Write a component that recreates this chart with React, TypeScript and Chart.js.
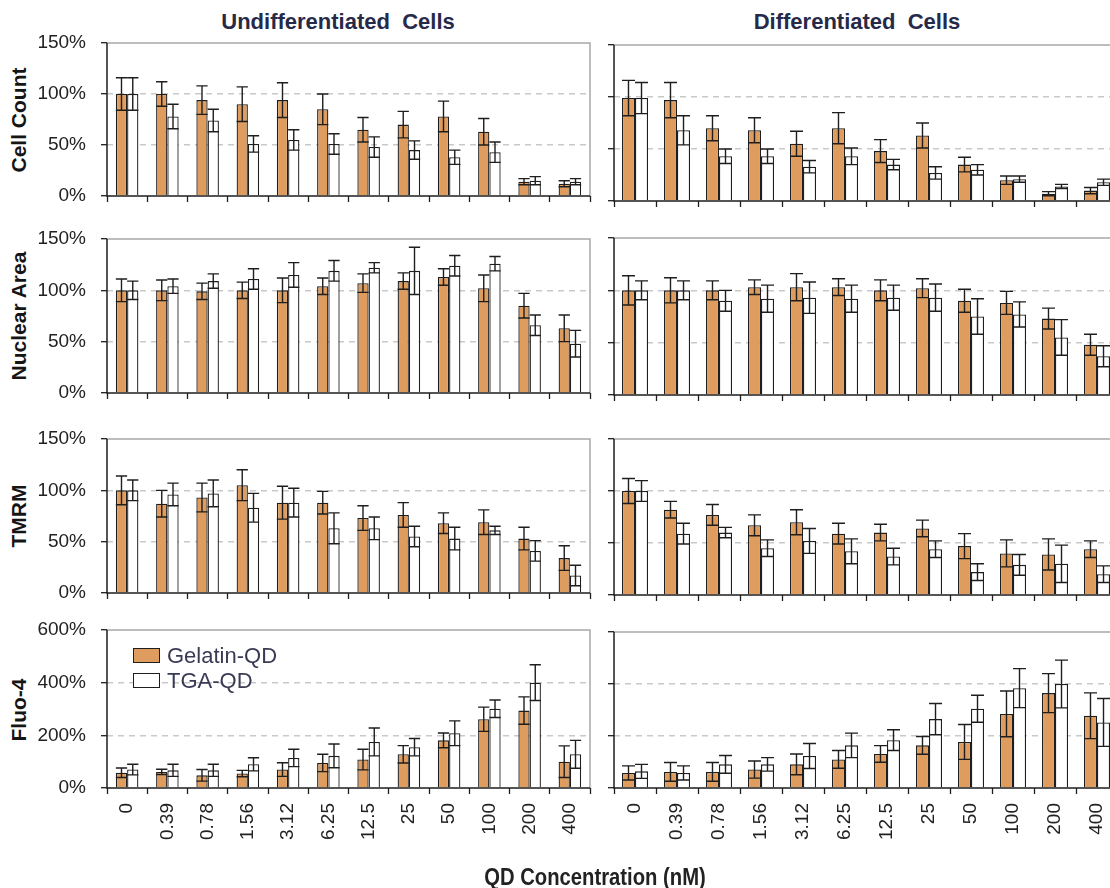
import React, { useEffect, useRef } from "react";
import { Chart, registerables } from "chart.js";
Chart.register(...registerables);

const concentrations = ["0", "0.39", "0.78", "1.56", "3.12", "6.25", "12.5", "25", "50", "100", "200", "400"];

// Cell Count – undifferentiated
const cellUndGel = [100, 100, 94, 90, 94, 85, 65, 70, 78, 63, 14, 12];
const cellUndGelErr = [16, 12, 14, 17, 17, 15, 12, 13, 15, 13, 3, 3];
const cellUndTga = [100, 78, 74, 51, 55, 51, 48, 45, 38, 43, 15, 14];
const cellUndTgaErr = [16, 12, 11, 8, 10, 10, 10, 9, 7, 10, 4, 3];
// Cell Count – differentiated
const cellDifGel = [99, 97, 70, 68, 55, 70, 48, 63, 35, 20, 7, 10];
const cellDifGelErr = [17, 17, 12, 12, 12, 15, 11, 12, 7, 4, 2, 3];
const cellDifTga = [99, 68, 43, 43, 33, 43, 35, 27, 30, 21, 14, 18];
const cellDifTgaErr = [15, 14, 7, 7, 6, 8, 5, 6, 5, 3, 2, 3];
// Nuclear Area
const nucUndGel = [100, 100, 99, 100, 100, 104, 107, 109, 113, 102, 85, 63];
const nucUndGelErr = [11, 10, 8, 8, 12, 8, 9, 8, 8, 13, 12, 13];
const nucUndTga = [100, 104, 109, 111, 115, 119, 122, 119, 124, 126, 66, 48];
const nucUndTgaErr = [9, 7, 7, 10, 12, 10, 5, 23, 10, 7, 10, 13];
const nucDifGel = [100, 100, 100, 103, 103, 103, 100, 102, 90, 88, 73, 48];
const nucDifGelErr = [14, 12, 9, 7, 13, 8, 10, 9, 11, 11, 10, 10];
const nucDifTga = [100, 100, 90, 92, 93, 92, 93, 93, 75, 77, 55, 37];
const nucDifTgaErr = [9, 9, 10, 13, 15, 13, 12, 13, 17, 12, 17, 10];
// TMRM
const tmrmUndGel = [100, 87, 93, 105, 88, 88, 73, 76, 68, 69, 53, 34];
const tmrmUndGelErr = [14, 13, 14, 15, 16, 11, 12, 12, 10, 12, 11, 12];
const tmrmUndTga = [100, 96, 97, 83, 88, 63, 63, 55, 53, 61, 41, 17];
const tmrmUndTgaErr = [10, 11, 13, 14, 14, 15, 11, 10, 11, 4, 10, 10];
const tmrmDifGel = [100, 82, 77, 67, 70, 59, 60, 64, 47, 40, 39, 44];
const tmrmDifGelErr = [12, 8, 10, 10, 12, 10, 8, 8, 12, 13, 15, 8];
const tmrmDifTga = [100, 59, 60, 45, 52, 42, 37, 44, 22, 29, 30, 20];
const tmrmDifTgaErr = [10, 10, 5, 8, 12, 12, 8, 8, 8, 10, 18, 8];
// Fluo-4
const fluoUndGel = [58, 61, 48, 55, 70, 95, 108, 128, 181, 261, 294, 100];
const fluoUndGelErr = [18, 10, 22, 12, 26, 33, 39, 33, 28, 46, 52, 60];
const fluoUndTga = [70, 67, 67, 90, 114, 122, 175, 155, 208, 301, 400, 128];
const fluoUndTgaErr = [20, 23, 23, 25, 33, 45, 53, 33, 47, 33, 68, 53];
const fluoDifGel = [58, 62, 62, 71, 91, 110, 131, 164, 177, 285, 365, 278];
const fluoDifGelErr = [27, 36, 36, 33, 40, 34, 32, 34, 67, 88, 75, 88];
const fluoDifTga = [64, 58, 91, 91, 123, 164, 184, 265, 305, 384, 400, 252];
const fluoDifTgaErr = [27, 27, 34, 26, 48, 47, 40, 60, 52, 75, 92, 92];

const seriesNames = ["Gelatin-QD", "TGA-QD"];
const columnTitles = ["Undifferentiated  Cells", "Differentiated  Cells"];
const rowTitles = ["Cell Count", "Nuclear Area", "TMRM", "Fluo-4"];
const xTitle = "QD Concentration (nM)";

const ORANGE = "#DE9D5E";
const EDGE = "#1e1e1e";
const FONT = "'Liberation Sans', Arial, Helvetica, sans-serif";

type Area = { l: number; t: number; r: number; b: number };
type PanelProps = {
  gel: number[]; gelErr: number[]; tga: number[]; tgaErr: number[];
  max: number; step: number; area: Area; showY: boolean; showX: boolean; catPct: number;
};

function Panel(p: PanelProps) {
  const ref = useRef<HTMLCanvasElement>(null);
  const yW = p.showY ? 100 : 10;
  const topPad = 14;
  const xH = p.showX ? 80 : 12;
  const rightPad = 14;
  const cw = p.area.r - p.area.l + yW + rightPad;
  const ch = p.area.b - p.area.t + topPad + xH;

  useEffect(() => {
    const errs = [p.gelErr, p.tgaErr];
    const errorBars = {
      id: "errorBars",
      afterDatasetsDraw(chart: any) {
        const ctx = chart.ctx;
        const ys = chart.scales.y;
        ctx.save();
        ctx.strokeStyle = EDGE;
        ctx.lineWidth = 1.4;
        chart.data.datasets.forEach((ds: any, di: number) => {
          const meta = chart.getDatasetMeta(di);
          meta.data.forEach((bar: any, i: number) => {
            const v = ds.data[i];
            const e = errs[di][i];
            const yt = ys.getPixelForValue(v + e);
            const yb = ys.getPixelForValue(Math.max(v - e, 0));
            const half = Math.min(6.5, bar.width / 2);
            ctx.beginPath();
            ctx.moveTo(bar.x, yt); ctx.lineTo(bar.x, yb);
            ctx.moveTo(bar.x - half, yt); ctx.lineTo(bar.x + half, yt);
            ctx.moveTo(bar.x - half, yb); ctx.lineTo(bar.x + half, yb);
            ctx.stroke();
          });
        });
        ctx.restore();
      },
    };
    const frame = {
      id: "frame",
      afterDraw(chart: any) {
        const { ctx, chartArea: a } = chart;
        ctx.save();
        ctx.lineWidth = 1.5;
        ctx.strokeStyle = "#a8a8a8";
        ctx.beginPath();
        ctx.moveTo(a.left, a.top); ctx.lineTo(a.right, a.top); ctx.lineTo(a.right, a.bottom);
        ctx.stroke();
        ctx.strokeStyle = EDGE;
        ctx.beginPath();
        ctx.moveTo(a.left, a.top); ctx.lineTo(a.left, a.bottom); ctx.lineTo(a.right, a.bottom);
        ctx.stroke();
        ctx.restore();
      },
    };
    const chart = new Chart(ref.current as HTMLCanvasElement, {
      type: "bar",
      data: {
        labels: concentrations,
        datasets: [
          { label: seriesNames[0], data: p.gel, backgroundColor: ORANGE, borderColor: EDGE, borderWidth: 1.3, barPercentage: 1, categoryPercentage: p.catPct },
          { label: seriesNames[1], data: p.tga, backgroundColor: "#ffffff", borderColor: EDGE, borderWidth: 1.3, barPercentage: 1, categoryPercentage: p.catPct },
        ],
      },
      options: {
        animation: false,
        responsive: false,
        maintainAspectRatio: false,
        devicePixelRatio: 1,
        layout: { padding: { top: topPad, right: rightPad, left: 0, bottom: 0 } },
        plugins: { legend: { display: false }, tooltip: { enabled: false }, title: { display: false } },
        scales: {
          x: {
            grid: { offset: true, color: "rgba(0,0,0,0)", tickColor: EDGE, tickLength: 6, tickWidth: 1.3, drawOnChartArea: false },
            border: { display: false },
            ticks: {
              display: p.showX, minRotation: 90, maxRotation: 90, autoSkip: false, padding: 9,
              font: { family: FONT, size: 19 }, color: "#222",
            },
            afterFit: (s: any) => { s.height = xH; s.paddingLeft = 0; s.paddingRight = 0; },
          },
          y: {
            min: 0, max: p.max,
            ticks: {
              stepSize: p.step, display: p.showY, padding: 15,
              callback: (v: any) => v + "%",
              font: { family: FONT, size: 19 }, color: "#222",
            },
            grid: {
              color: (c: any) => (c.tick && c.tick.value > 0 && c.tick.value < p.max ? "#c9c9c9" : "rgba(0,0,0,0)"),
              lineWidth: 1.4, tickColor: EDGE, tickLength: 6, tickWidth: 1.3, tickBorderDash: [],
            },
            border: { display: false, dash: [6, 5] },
            afterFit: (s: any) => { s.width = yW; s.paddingTop = 0; s.paddingBottom = 0; },
          },
        },
      } as any,
      plugins: [errorBars, frame],
    });
    return () => chart.destroy();
  }, []);

  return (
    <canvas
      ref={ref}
      width={cw}
      height={ch}
      style={{ position: "absolute", left: p.area.l - yW, top: p.area.t - topPad, width: cw, height: ch }}
    />
  );
}

const L = { l: 107, r: 590 };
const R = { l: 614, r: 1118 };

export default function App() {
  const rowText = (t: string, cx: number, cy: number) => (
    <div
      key={t}
      style={{
        position: "absolute", left: cx, top: cy, transform: "translate(-50%,-50%) rotate(-90deg)",
        whiteSpace: "nowrap", fontFamily: FONT, fontWeight: "bold", fontSize: 21, color: "#151515",
      }}
    >
      {t}
    </div>
  );
  const colText = (t: string, cx: number) => (
    <div
      key={t}
      style={{
        position: "absolute", left: cx, top: 22, transform: "translate(-50%,-50%)", whiteSpace: "pre",
        fontFamily: FONT, fontWeight: "bold", fontSize: 22, color: "#262a48",
      }}
    >
      {t}
    </div>
  );
  return (
    <div style={{ position: "absolute", left: 0, top: 0, width: 1110, height: 888, overflow: "hidden", background: "#fff" }}>
      {colText(columnTitles[0], 338)}
      {colText(columnTitles[1], 857)}
      {rowText(rowTitles[0], 19, 120)}
      {rowText(rowTitles[1], 19, 316)}
      {rowText(rowTitles[2], 19, 516)}
      {rowText(rowTitles[3], 19, 710)}

      <Panel gel={cellUndGel} gelErr={cellUndGelErr} tga={cellUndTga} tgaErr={cellUndTgaErr} max={150} step={50}
        area={{ l: L.l, r: L.r, t: 43, b: 196 }} showY={true} showX={false} catPct={0.56} />
      <Panel gel={cellDifGel} gelErr={cellDifGelErr} tga={cellDifTga} tgaErr={cellDifTgaErr} max={150} step={50}
        area={{ l: R.l, r: R.r, t: 45, b: 201 }} showY={false} showX={false} catPct={0.62} />
      <Panel gel={nucUndGel} gelErr={nucUndGelErr} tga={nucUndTga} tgaErr={nucUndTgaErr} max={150} step={50}
        area={{ l: L.l, r: L.r, t: 239, b: 393 }} showY={true} showX={false} catPct={0.56} />
      <Panel gel={nucDifGel} gelErr={nucDifGelErr} tga={nucDifTga} tgaErr={nucDifTgaErr} max={150} step={50}
        area={{ l: R.l, r: R.r, t: 238, b: 395 }} showY={false} showX={false} catPct={0.62} />
      <Panel gel={tmrmUndGel} gelErr={tmrmUndGelErr} tga={tmrmUndTga} tgaErr={tmrmUndTgaErr} max={150} step={50}
        area={{ l: L.l, r: L.r, t: 439, b: 593 }} showY={true} showX={false} catPct={0.56} />
      <Panel gel={tmrmDifGel} gelErr={tmrmDifGelErr} tga={tmrmDifTga} tgaErr={tmrmDifTgaErr} max={150} step={50}
        area={{ l: R.l, r: R.r, t: 439, b: 595 }} showY={false} showX={false} catPct={0.62} />
      <Panel gel={fluoUndGel} gelErr={fluoUndGelErr} tga={fluoUndTga} tgaErr={fluoUndTgaErr} max={600} step={200}
        area={{ l: L.l, r: L.r, t: 630, b: 788 }} showY={true} showX={true} catPct={0.56} />
      <Panel gel={fluoDifGel} gelErr={fluoDifGelErr} tga={fluoDifTga} tgaErr={fluoDifTgaErr} max={600} step={200}
        area={{ l: R.l, r: R.r, t: 632, b: 788 }} showY={false} showX={true} catPct={0.62} />

      <div style={{ position: "absolute", left: 133, top: 643, fontFamily: FONT, fontSize: 22, color: "#3a3a55", lineHeight: "25px" }}>
        <div style={{ display: "flex", alignItems: "center" }}>
          <span style={{ display: "inline-block", width: 25, height: 13, background: ORANGE, border: "1.3px solid " + EDGE, marginRight: 7 }} />
          {seriesNames[0]}
        </div>
        <div style={{ display: "flex", alignItems: "center" }}>
          <span style={{ display: "inline-block", width: 25, height: 13, background: "#fff", border: "1.3px solid " + EDGE, marginRight: 7 }} />
          {seriesNames[1]}
        </div>
      </div>

      <div
        style={{
          position: "absolute", left: 595, top: 877, transform: "translate(-50%,-50%) scaleX(0.88)", whiteSpace: "nowrap",
          fontFamily: FONT, fontWeight: "bold", fontSize: 23, color: "#222",
        }}
      >
        {xTitle}
      </div>
    </div>
  );
}
